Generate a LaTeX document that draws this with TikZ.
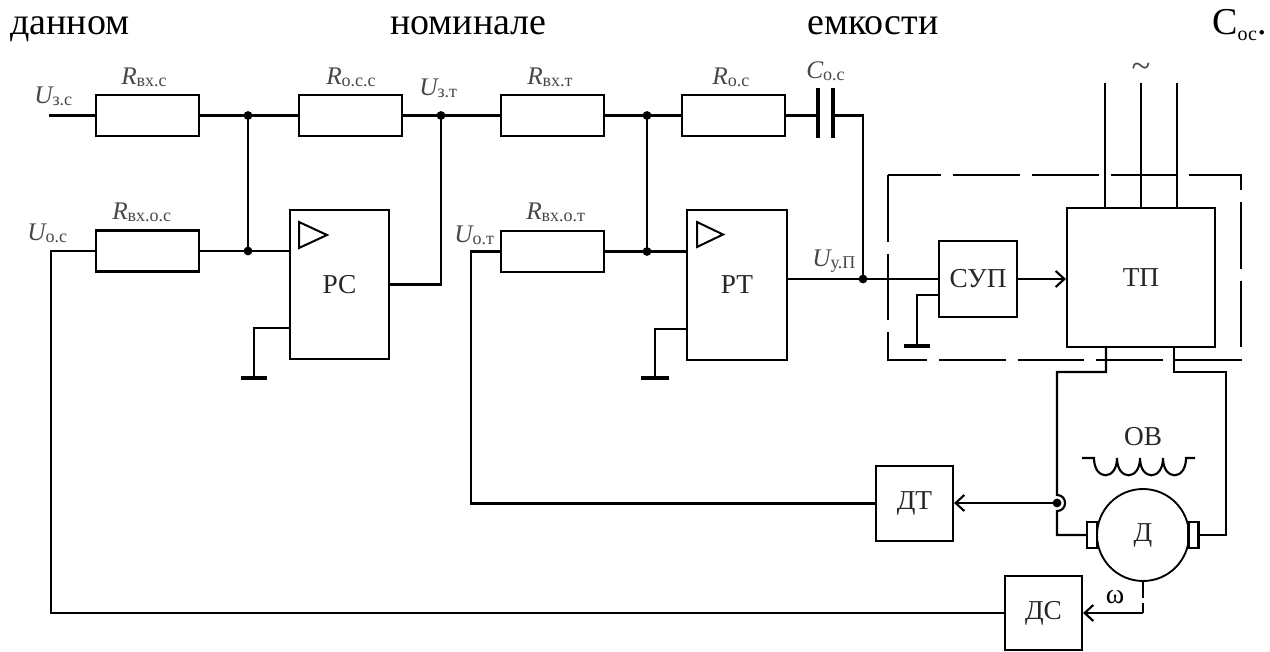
\documentclass[tikz,border=0pt]{standalone}
\usepackage{fontspec}
\setmainfont{Liberation Serif}
\usetikzlibrary{arrows.meta}
\newcommand{\ckLbl}[2]{{\fontsize{19}{19}\selectfont\itshape #1}{\fontsize{13.5}{13.5}\selectfont\raisebox{-1pt}{#2}}}
\begin{document}
\begin{tikzpicture}[x=0.75pt,y=-0.75pt,
  wire/.style={line width=1.6pt},
  res/.style={draw,line width=1.6pt,rectangle,minimum width=77.25pt,minimum height=30.75pt,inner sep=0pt},
  blk/.style={draw,line width=1.6pt,inner sep=0pt,text=black!85,font=\fontsize{20.5}{20.5}\selectfont},
  blktext/.style={inner sep=0pt,text=black!85,font=\fontsize{20.5}{20.5}\selectfont},
  brush/.style={draw,fill=white,line width=1.6pt,minimum width=7.5pt,minimum height=19.5pt,inner sep=0pt},
  lab/.style={inner sep=0pt,anchor=base west,text=black!72},
  toptext/.style={inner sep=0pt,anchor=base west,font=\fontsize{28.5}{28.5}\selectfont},
  gnd/.style={line width=3.2pt},
  plate/.style={line width=3.2pt},
  >={Straight Barb[length=6.5pt,width=12pt]}]
\useasboundingbox (0,0) rectangle (1270,652);

% top text line
\node[toptext] (w1) at (10,35) {данном};
\node[toptext] (w2) at (390,35) {номинале};
\node[toptext] (w3) at (807,35) {емкости};
\node[toptext] (w4) at (1212,35) {C\raisebox{-4pt}{\fontsize{15}{15}\selectfont ос}.};

% resistors
\node[res] (rvxc) at (147.5,115.5) {};
\node[res] (rosc) at (350.5,115.5) {};
\node[res] (rvxt) at (552.5,115.5) {};
\node[res] (ros) at (733.5,115.5) {};
\node[res] (rvxoc) at (147.5,251) {};
\node[res] (rvxot) at (552.5,251.5) {};

% labels
\node[lab] (l1) at (34,104) {\ckLbl{U}{з.с}};
\node[lab] (l2) at (121,85) {\ckLbl{R}{вх.с}};
\node[lab] (l3) at (326,85) {\ckLbl{R}{о.с.с}};
\node[lab] (l4) at (419,96) {\ckLbl{U}{з.т}};
\node[lab] (l5) at (527,85) {\ckLbl{R}{вх.т}};
\node[lab] (l6) at (712,85) {\ckLbl{R}{о.с}};
\node[lab] (l7) at (806,79) {\ckLbl{C}{о.с}};
\node[lab] (l8) at (27,241) {\ckLbl{U}{о.с}};
\node[lab] (l9) at (112,220) {\ckLbl{R}{вх.о.с}};
\node[lab] (l10) at (454,243) {\ckLbl{U}{о.т}};
\node[lab] (l11) at (526,220) {\ckLbl{R}{вх.о.т}};
\node[lab] (l12) at (812,267) {\ckLbl{U}{у.П}};

% coordinates
\coordinate (uzc) at (49,115.5);
\coordinate (j1) at (248,115.5);
\coordinate (j2) at (441,115.5);
\coordinate (j3) at (647,115.5);
\coordinate (j4) at (248,251);
\coordinate (j6) at (647,251.5);
\coordinate (c1) at (818,115.5);
\coordinate (c2) at (833,115.5);
\coordinate (ctop) at (863,115.5);
\coordinate (j5) at (863,279);
\coordinate (uoc) at (51,251);
\coordinate (uot) at (471,251.5);
\coordinate (g1) at (254,378);
\coordinate (g2) at (655,378);
\coordinate (g3) at (917,346);

% blocks
\node[blk,minimum width=74.25pt,minimum height=111.75pt] (pc) at (339.5,284.5) {\raisebox{-3pt}{РС}};
\node[blk,minimum width=75pt,minimum height=112.5pt] (rt) at (737,285) {РТ};
\node[blk,minimum width=58.5pt,minimum height=57pt] (sup) at (978,279) {СУП};
\node[blk,minimum width=111pt,minimum height=104.25pt] (tp) at (1141,277.5) {ТП};
\node[blk,minimum width=57.75pt,minimum height=56.25pt] (dt) at (914.5,503.5) {ДТ};
\node[blk,minimum width=57.75pt,minimum height=55.5pt] (ds) at (1043.5,613) {ДС};
\node[blk,circle,line width=1.4pt,minimum size=69pt] (mot) at (1143,535) {Д};
\node[brush] (bl) at (1092,535) {};
\node[brush] (br) at (1193.5,535) {};

% amplifier triangles
\draw[line width=1.5pt,line join=miter] (299,222) -- (327,235) -- (299,248) -- cycle;
\draw[line width=1.5pt,line join=miter] (697,222) -- (723,234.5) -- (697,247) -- cycle;

% top chain
\draw[wire] (uzc) -- (rvxc.west);
\draw[wire] (rvxc.east) -- (j1) -- (rosc.west);
\draw[wire] (rosc.east) -- (j2) -- (rvxt.west);
\draw[wire] (rvxt.east) -- (j3) -- (ros.west);
\draw[wire] (ros.east) -- (c1);
\draw[wire] (c2) -- (ctop) -- (j5);
\draw[plate] (818,88) -- (818,138);
\draw[plate] (833,88) -- (833,138);

% speed regulator
\draw[wire] (j1) -- (j4);
\draw[wire] (rvxoc.east) -- (j4) -- (j4 -| pc.west);
\draw[wire] (rvxoc.west) -- (uoc) -- (uoc |- ds.west) -- (ds.west);
\draw[wire] (pc.east) -- (pc.east -| j2) -- (j2);
\draw[wire] ([yshift=24pt]pc.south west) -| (g1);
\draw[gnd] ([xshift=-10pt]g1) -- ([xshift=10pt]g1);

% current regulator
\draw[wire] (j3) -- (j6);
\draw[wire] (rvxot.east) -- (j6) -- (j6 -| rt.west);
\draw[wire] (rvxot.west) -- (uot) -- (uot |- dt.west) -- (dt.west);
\draw[wire] (j5 -| rt.east) -- (j5) -- (sup.west);
\draw[wire] ([yshift=24pt]rt.south west) -| (g2);
\draw[gnd] ([xshift=-10.5pt]g2) -- ([xshift=10.5pt]g2);

% converter
\draw[line width=1.9pt,dash pattern=on 50pt off 9pt] (888,175) rectangle (1241,360);
\draw[wire] ([yshift=17.25pt]sup.south west) -| (g3);
\draw[gnd] ([xshift=-10pt]g3) -- ([xshift=10pt]g3);
\draw[wire,->] (sup.east) -- (sup.east -| tp.west);
\coordinate (s1) at (1105,83);
\coordinate (s2) at (1141,83);
\coordinate (s3) at (1177,83);
\draw[wire] (s1) -- (s1 |- tp.north);
\draw[wire] (s2) -- (tp.north);
\draw[wire] (s3) -- (s3 |- tp.north);
\node[inner sep=0pt,text=black!72] (tl) at (1141,70) {\fontsize{26}{26}\selectfont\textasciitilde};

% motor circuit
\coordinate (t1) at (1106,372);
\coordinate (t2) at (1174,372);
\coordinate (lc) at (1057,372);
\coordinate (rc) at (1226,372);
\coordinate (sh) at (1057,503);
\draw[wire] (t1 |- tp.south) -- (t1) -- (lc) -- (1057,495)
  .. controls (1067.7,495) and (1067.7,511) .. (1057,511) -- (lc |- bl.west) -- (bl.west);
\draw[wire] (t2 |- tp.south) -- (t2) -- (rc) -- (rc |- br.east) -- (br.east);
\draw[wire,->] (sh) -- (sh -| dt.east);

% field winding
\node[blktext] (ov) at (1143,437) {ОВ};
\draw[wire] (1082,458) -- (1094,458)
  .. controls (1094,481) and (1117,481) .. (1117,458)
  .. controls (1117,481) and (1140,481) .. (1140,458)
  .. controls (1140,481) and (1163,481) .. (1163,458)
  .. controls (1163,481) and (1186,481) .. (1186,458) -- (1195,458);

% speed sensor
\coordinate (sk) at (1143,613);
\draw[wire,dash pattern=on 12pt off 3.5pt] (mot.south) -- (sk);
\draw[wire,->] (sk) -- (ds.east);
\node[inner sep=0pt] (om) at (1115,597) {\fontsize{21}{21}\selectfont ω};

% junction dots
\foreach \p in {j1,j2,j3,j4,j6,j5,sh} \fill (\p) circle[radius=3.3pt];
\end{tikzpicture}
\end{document}
